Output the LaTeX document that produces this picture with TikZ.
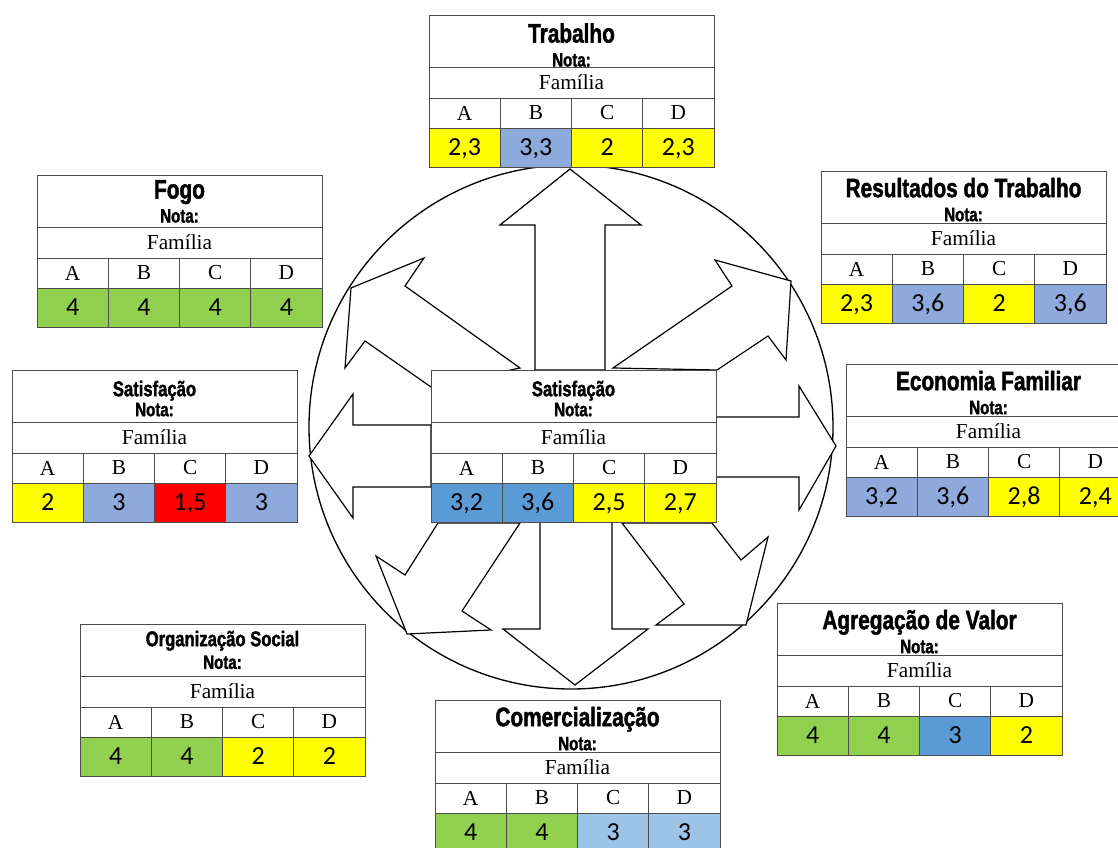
\documentclass[tikz,border=0pt]{standalone}
\usepackage{fontspec}
\setmainfont{Liberation Serif}
\newfontfamily\numfont{Carlito}
\newfontfamily\titfont[FakeStretch=0.78,FakeBold=1.6]{Liberation Sans}
\usetikzlibrary{positioning,calc}
\definecolor{amarelo}{HTML}{FFFF00}
\definecolor{lilas}{HTML}{8EA9DB}
\definecolor{verde}{HTML}{92D050}
\definecolor{azul}{HTML}{5B9BD5}
\definecolor{vermelho}{HTML}{FF0000}
\definecolor{celeste}{HTML}{9DC3E6}
\newcommand{\grande}{\titfont\bfseries\fontsize{20}{20}\selectfont}
\newcommand{\pequeno}{\titfont\bfseries\fontsize{16}{16}\selectfont}
\newcommand{\nota}{{\titfont\bfseries\fontsize{14.5}{15}\selectfont Nota:}}
% #1 name, #2 top left corner, #3 title, #4 lift of the title, #5 colour/value
\newcommand{\tabela}[5]{%
  \node[cab, anchor=north west] (#1) at (#2) {};
  \node[cabtxt, anchor=south] (#1-tit) at ([yshift=#4]#1.south) {#3};
  \node[fam, anchor=north west] (#1-fam) at (#1.south west) {Família};
  \foreach \letr [count=\idx] in {A,B,C,D}
    \node[letra, anchor=north west] (#1-l\idx)
      at ($(#1-fam.south west)+({(\idx-1)*71.25},0)$) {\letr};
  \foreach \cor/\val [count=\idx] in {#5}
    \node[valor, fill=\cor, below=0pt of #1-l\idx] (#1-v\idx) {\val};
}
\begin{document}
\begin{tikzpicture}[x=0.75pt, y=-0.75pt,
  roda/.style  ={circle, draw, line width=1pt, minimum size=524*0.75pt,
                 inner sep=0pt},
  seta/.style  ={draw, fill=white, line width=0.9pt, line join=miter},
  linha/.style ={draw=black!70, line width=0.7pt},
  cab/.style   ={linha, fill=white, minimum width=285*0.75pt,
                 minimum height=52*0.75pt, inner sep=0pt, outer sep=0pt},
  cabtxt/.style={align=center, inner sep=0pt,
                 font=\fontsize{13}{18}\selectfont},
  fam/.style   ={cab, minimum height=31*0.75pt,
                 font=\fontsize{16}{16}\selectfont},
  letra/.style ={linha, fill=white, minimum width=71.25*0.75pt,
                 minimum height=30*0.75pt, inner sep=0pt, outer sep=0pt,
                 font=\fontsize{16}{16}\selectfont},
  valor/.style ={letra, minimum height=39*0.75pt, text height=12pt,
                 text depth=0pt, font=\numfont\fontsize{19.5}{19.5}\selectfont}]
\useasboundingbox (0,0) rectangle (1118,848);

\node[roda] (roda) at (571,427) {};

% eight block arrows out of the centre
\draw[seta] (535,370) -- (535,225) -- (500,225) -- (570,169) -- (641,225) -- (605,225) -- (605,370) -- cycle;
\draw[seta] (716,417) -- (799,417) -- (799,386) -- (836,446) -- (799,510) -- (799,477) -- (716,477) -- cycle;
\draw[seta] (431,425) -- (353,425) -- (353,394) -- (309,456) -- (353,518) -- (353,487) -- (431,487) -- cycle;
\draw[seta] (540,522) -- (540,629) -- (503,629) -- (575,685) -- (648,629) -- (612,629) -- (612,522) -- cycle;
\draw[seta] (613,368) -- (732,286) -- (715,260) -- (791,281) -- (786,360) -- (768,336) -- (717,370) -- cycle;
\draw[seta] (520,368) -- (405,286) -- (424,258) -- (351,288) -- (345,368) -- (365,341) -- (431,387) -- cycle;
\draw[seta] (438,523) -- (405,575) -- (376,556) -- (407,634) -- (491,630) -- (462,611) -- (520,523) -- cycle;
\draw[seta] (622,523) -- (684,604) -- (656,625) -- (746,625) -- (768,537) -- (741,560) -- (712,523) -- cycle;

\tabela{centro}{431,370}{{\pequeno Satisfação}\\[-3pt]\nota}{4pt}
  {azul/{3,2}, azul/{3,6}, amarelo/{2,5}, amarelo/{2,7}}
\tabela{trab}{429,15}{{\grande Trabalho}\\\nota}{0pt}
  {amarelo/{2,3}, lilas/{3,3}, amarelo/2, amarelo/{2,3}}
\tabela{fogo}{37,175}{{\grande Fogo}\\\nota}{3pt}
  {verde/4, verde/4, verde/4, verde/4}
\tabela{result}{821,171}{{\grande Resultados do Trabalho}\\\nota}{1pt}
  {amarelo/{2,3}, lilas/{3,6}, amarelo/2, lilas/{3,6}}
\tabela{satesq}{12,370}{{\pequeno Satisfação}\\[-3pt]\nota}{4pt}
  {amarelo/2, lilas/3, vermelho/{1,5}, lilas/3}
\tabela{econ}{846,364}{{\grande Economia Familiar}\\\nota}{1pt}
  {lilas/{3,2}, lilas/{3,6}, amarelo/{2,8}, amarelo/{2,4}}
\tabela{org}{80,624}{{\pequeno Organização Social}\\[-1pt]\nota}{5pt}
  {verde/4, verde/4, amarelo/2, amarelo/2}
\tabela{agreg}{777,603}{{\grande Agregação de Valor}\\\nota}{1pt}
  {verde/4, verde/4, azul/3, amarelo/2}
\tabela{comerc}{435,700}{{\grande Comercialização}\\\nota}{1pt}
  {verde/4, verde/4, celeste/3, celeste/3}
\end{tikzpicture}
\end{document}
